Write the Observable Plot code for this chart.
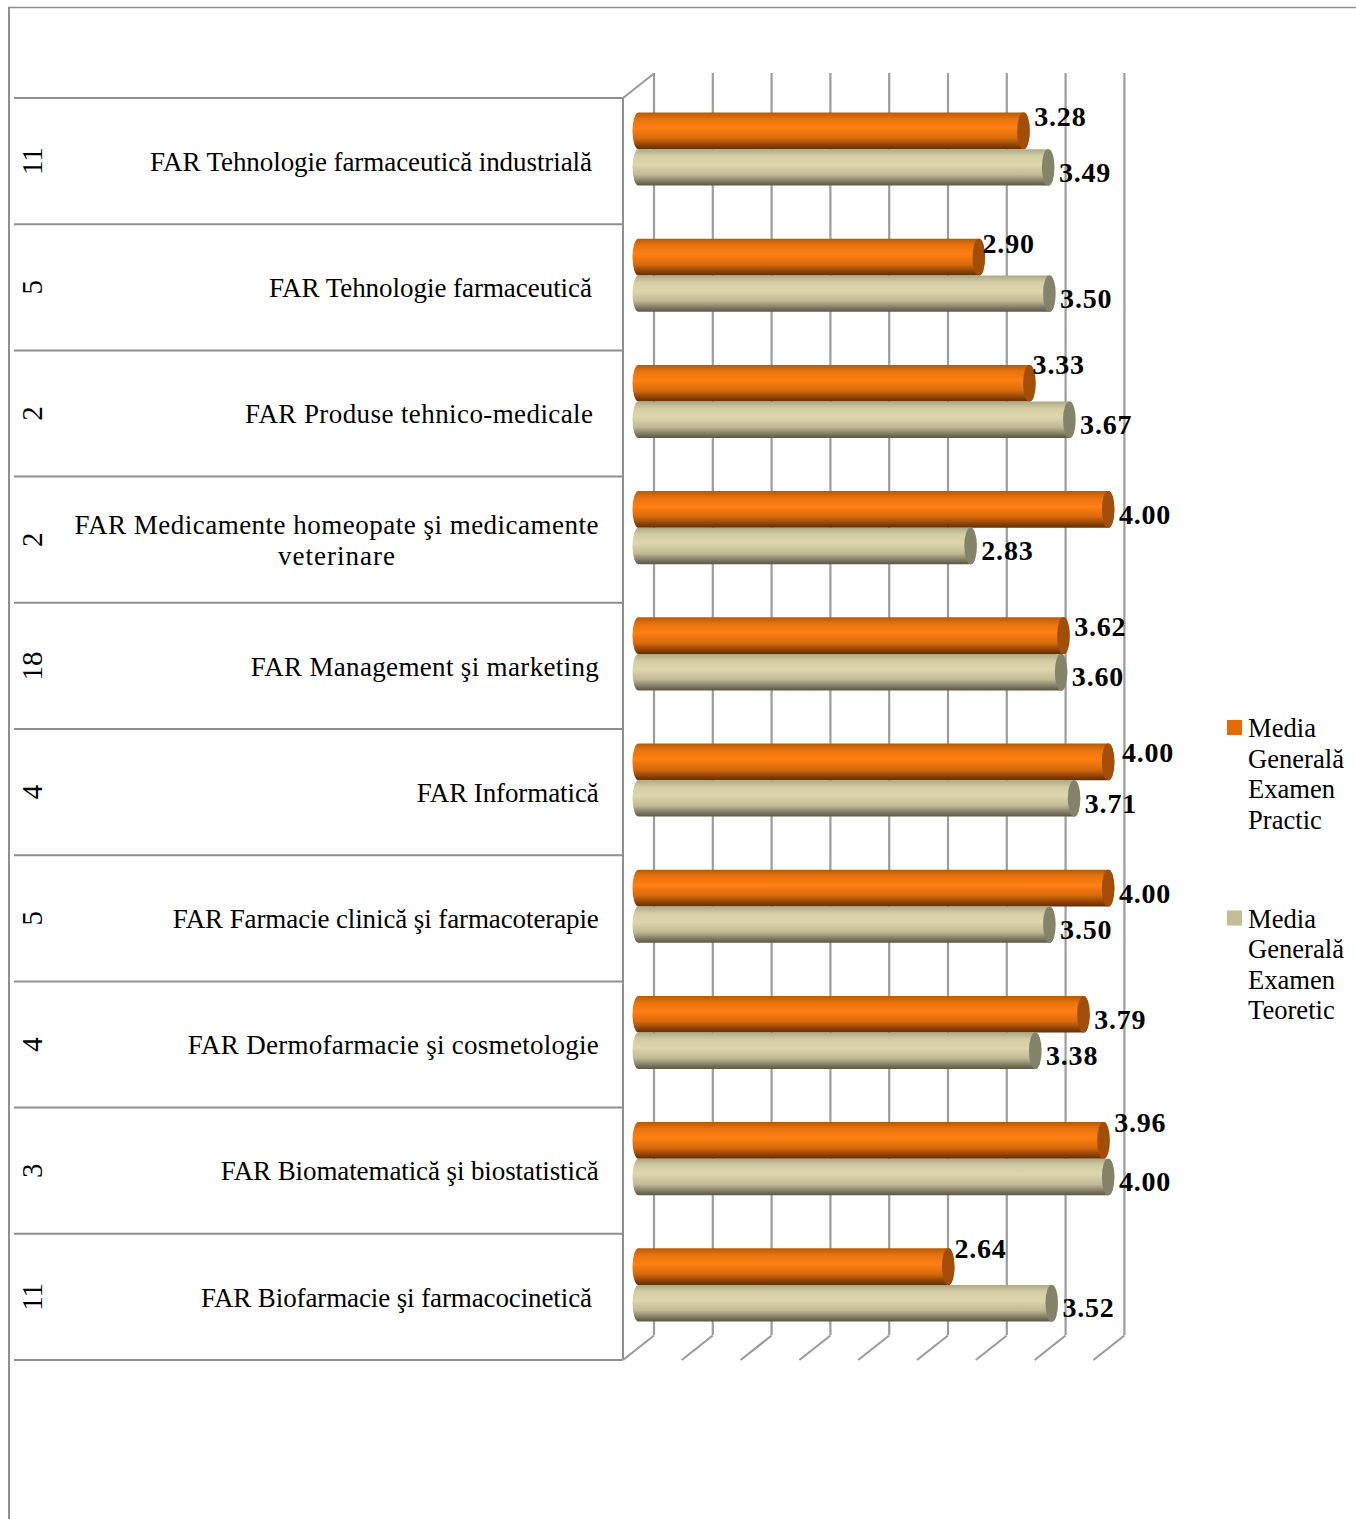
<!DOCTYPE html>
<html>
<head>
<meta charset="utf-8">
<script src="https://cdn.jsdelivr.net/npm/d3@7"></script>
<script src="https://cdn.jsdelivr.net/npm/@observablehq/plot@0.6"></script>
<style>
html,body{margin:0;padding:0;background:#fff;overflow:hidden}
svg{display:block}
.val{letter-spacing:.8px}
</style>
</head>
<body>
<div id="chart"></div>
<script>
// ---- data, top row first
const categories = [
  "FAR Tehnologie farmaceutică industrială",
  "FAR Tehnologie farmaceutică",
  "FAR Produse tehnico-medicale",
  "FAR Medicamente homeopate şi medicamente\nveterinare",
  "FAR Management şi marketing",
  "FAR Informatică",
  "FAR Farmacie clinică şi farmacoterapie",
  "FAR Dermofarmacie şi cosmetologie",
  "FAR Biomatematică şi biostatistică",
  "FAR Biofarmacie şi farmacocinetică"
];
const counts = [11, 5, 2, 2, 18, 4, 5, 4, 3, 11];
const practic = [3.28, 2.90, 3.33, 4.00, 3.62, 4.00, 4.00, 3.79, 3.96, 2.64];
const teoretic = [3.49, 3.50, 3.67, 2.83, 3.60, 3.71, 3.50, 3.38, 4.00, 3.52];
const ticks = [0, 0.5, 1, 1.5, 2, 2.5, 3, 3.5, 4];
const legendPractic = "Media\nGenerală\nExamen\nPractic";
const legendTeoretic = "Media\nGenerală\nExamen\nTeoretic";

// ---- layout (pixels, turned into scale units below)
const W = 1356, H = 1519;
const zeroX = 637.5, unitX = 117.6; // pixel of value 0, pixels per unit
const topY = 97.5, rowH = 126.2;    // pixel of first row edge, pixels per row
const X = p => (p - zeroX) / unitX; // pixel → x-scale value
const Y = p => (p - topY) / rowH;   // pixel → y-scale value
const backDX = 16 / unitX, frontDX = -15 / unitX, backDY = -24.5 / rowH;
const practicLabelDX = [10.5, 3.5, 3, 10.5, 10.5, 13.5, 10.5, 10.5, 10.5, 6];
const practicLabelDY = [-44, -43, -48, -25, -39, -39, -24, -24.5, -48, -48];
const teoreticLabelDX = 10.5, teoreticLabelDY = 11.5;
const labelRight = [591.5, 591.5, 592.5, 336, 598.3, 598.3, 598.3, 598.3, 598.3, 591.5];
const labelWidths = [442, 323, 348, 348, 182, 426, 411, 378, 391]; // single-line rows, in draw order
const multiLineWidths = [524, 117];

const rows = d3.range(categories.length).map(i => ({
  i, label: categories[i], count: counts[i], p: practic[i], t: teoretic[i],
  labelX: X(labelRight[i]), multi: categories[i].includes("\n"),
  pLabelX: practic[i] + practicLabelDX[i] / unitX,
  pLabelY: i + 0.5 + practicLabelDY[i] / rowH,
  tLabelX: teoretic[i] + teoreticLabelDX / unitX,
  tLabelY: i + 0.5 + teoreticLabelDY / rowH
}));
const edges = d3.range(categories.length + 1);
const grey = "#8e8e8e", gridGrey = "#9c9c9c";
const serif = "'Liberation Serif', serif";

const cyl = (fill, top, bottom, x2key) => Plot.rect(rows, {
  x1: 0, x2: x2key,
  y1: d => d.i + top / rowH, y2: d => d.i + bottom / rowH,
  insetLeft: -5, insetRight: -6.5, rx: 6, ry: 18,
  fill
});
const cap = (fill, top, bottom, x2key) => Plot.rect(rows, {
  x1: x2key, x2: x2key,
  y1: d => d.i + top / rowH, y2: d => d.i + bottom / rowH,
  insetLeft: -6, insetRight: -6.5, rx: 6, ry: 18, fill
});

const plot = Plot.plot({
  width: W, height: H,
  margin: 0, marginTop: 0, marginRight: 0, marginBottom: 0, marginLeft: 0,
  x: {type: "linear", domain: [X(0), X(W)], range: [0, W], axis: null},
  y: {type: "linear", domain: [Y(0), Y(H)], range: [0, H], axis: null},
  style: {fontFamily: serif, background: "#fff", color: "#000"},
  marks: [
    // outer border
    Plot.ruleX([X(8.5)], {y1: Y(7), y2: Y(H), stroke: grey, strokeWidth: 2}),
    Plot.ruleY([Y(7)], {x1: X(8.5), x2: X(W), stroke: grey, strokeWidth: 1.5}),
    // category table lines
    Plot.ruleY(edges, {x1: X(14), x2: X(622.5), stroke: grey, strokeWidth: 2}),
    Plot.ruleX([frontDX], {y1: 0, y2: 10, stroke: grey, strokeWidth: 2}),
    // back wall grid
    Plot.ruleX(ticks, {x: d => d + backDX, y1: backDY, y2: 10 + backDY, stroke: gridGrey, strokeWidth: 2.2}),
    // floor and side wall slants
    Plot.link(ticks, {x1: d => d + backDX, y1: 10 + backDY, x2: d => d + frontDX, y2: 10, stroke: gridGrey, strokeWidth: 2.2}),
    Plot.link([0], {x1: backDX, y1: backDY, x2: frontDX, y2: 0, stroke: gridGrey, strokeWidth: 2.2}),
    // cylinders
    cyl("url(#gp)", 15, 51.7, "p"),
    cap("#a24d08", 15, 51.7, "p"),
    cyl("url(#gt)", 51.7, 88.1, "t"),
    cap("#85826a", 51.7, 88.1, "t"),
    // labels
    Plot.text(rows, {x: "pLabelX", y: "pLabelY", text: d => d.p.toFixed(2), textAnchor: "start", fontWeight: "bold", fontSize: 28, fill: "#000", className: "val"}),
    Plot.text(rows, {x: "tLabelX", y: "tLabelY", text: d => d.t.toFixed(2), textAnchor: "start", fontWeight: "bold", fontSize: 28, fill: "#000", className: "val"}),
    Plot.text(rows.filter(d => !d.multi), {x: "labelX", y: d => d.i + 0.5 + 1 / rowH, text: "label", textAnchor: "end", fontSize: 27, fill: "#000", className: "cat"}),
    Plot.text(rows.filter(d => d.multi), {x: "labelX", y: d => d.i + 0.5 - 0.5 / rowH, text: "label", textAnchor: "middle", lineHeight: 1.15, fontSize: 27, fill: "#000", className: "catm"}),
    Plot.text(rows, {x: X(32.5), y: d => d.i + 0.5, text: d => String(d.count), rotate: -90, fontSize: 29, fill: "#000"}),
    // legend
    Plot.dot([0], {x: X(1234), y: Y(727), symbol: "square", r: 8.5, fill: "#e36c0a"}),
    Plot.dot([0], {x: X(1234), y: Y(917.5), symbol: "square", r: 8.5, fill: "#c4bd97"}),
    Plot.text([legendPractic], {x: X(1247.5), y: Y(772.5), text: d => d, textAnchor: "start", fontSize: 26.6, lineHeight: 1.147, fill: "#000"}),
    Plot.text([legendTeoretic], {x: X(1247.5), y: Y(963), text: d => d, textAnchor: "start", fontSize: 26.6, lineHeight: 1.147, fill: "#000"})
  ]
});
plot.insertAdjacentHTML("afterbegin", `<defs>
<linearGradient id="gp" x1="0" y1="0" x2="0" y2="1">
<stop offset="0" stop-color="#b55a08"/><stop offset=".18" stop-color="#e8730c"/><stop offset=".42" stop-color="#ff7f12"/><stop offset=".7" stop-color="#d86a0c"/><stop offset=".92" stop-color="#803c04"/><stop offset="1" stop-color="#652f02"/>
</linearGradient>
<linearGradient id="gt" x1="0" y1="0" x2="0" y2="1">
<stop offset="0" stop-color="#aea784"/><stop offset=".18" stop-color="#d2cca4"/><stop offset=".42" stop-color="#ddd6ad"/><stop offset=".7" stop-color="#c0ba96"/><stop offset=".92" stop-color="#736f5a"/><stop offset="1" stop-color="#5b5846"/>
</linearGradient></defs>`);
document.getElementById("chart").append(plot);
// the reference's category text is set to fixed measured widths
plot.querySelectorAll(".cat text").forEach((t, k) => t.setAttribute("textLength", labelWidths[k]));
plot.querySelectorAll(".catm tspan").forEach((t, k) => t.setAttribute("textLength", multiLineWidths[k]));
</script>
</body>
</html>
